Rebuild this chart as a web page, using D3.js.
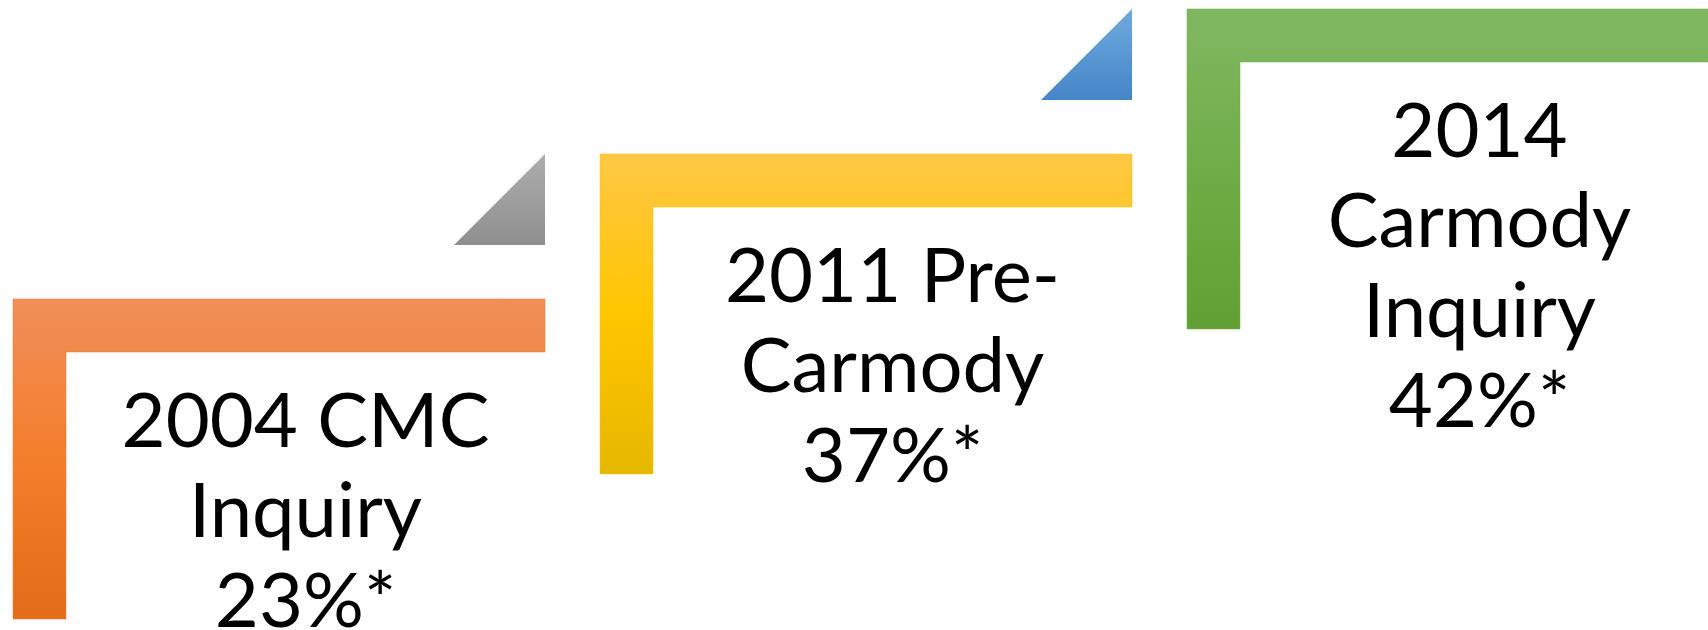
<!DOCTYPE html>
<html>
<head>
<meta charset="utf-8">
<script src="https://cdn.jsdelivr.net/npm/d3@7"></script>
<style>
  body { margin: 0; background: #fff; overflow: hidden; }
</style>
</head>
<body>
<span></span>
<script>
let width = 1708;
let height = 630;

// data
let years = [2004, 2011, 2014];
let labelLines = [["2004 CMC", "Inquiry"], ["2011 Pre-", "Carmody"], ["2014", "Carmody", "Inquiry"]];
let values = [23, 37, 42];
let colors = [
    ["#f08f5a", "#f47e2b", "#e36b19"],
    ["#ffc845", "#ffc600", "#e6b700"],
    ["#80b862", "#70ad47", "#61a033"]
];
let triColors = [["#adadad", "#8f8f8f"], ["#70a9de", "#4586c8"]];

let lw = 532, lh = 320, thick = 53, triSize = 91;

let x = d3.scaleLinear().domain([0, years.length - 1]).range([13, 1187]);
let y = d3.scaleLinear().domain([0, years.length - 1]).range([299, 9]);

let svg = d3.select("span")
    .append("svg")
    .attr("width", width)
    .attr("height", height)
    .style("display", "block");

let defs = svg.append("defs");

colors.forEach(function (c, i) {
    let g = defs.append("linearGradient")
        .attr("id", "grad" + i)
        .attr("x1", 0).attr("y1", 0).attr("x2", 0).attr("y2", 1);
    g.append("stop").attr("offset", "0%").attr("stop-color", c[0]);
    g.append("stop").attr("offset", "50%").attr("stop-color", c[1]);
    g.append("stop").attr("offset", "100%").attr("stop-color", c[2]);
});
triColors.forEach(function (c, i) {
    let g = defs.append("linearGradient")
        .attr("id", "tri" + i)
        .attr("x1", 0).attr("y1", 0).attr("x2", 0).attr("y2", 1);
    g.append("stop").attr("offset", "0%").attr("stop-color", c[0]);
    g.append("stop").attr("offset", "100%").attr("stop-color", c[1]);
});

// L shapes
years.forEach(function (yr, i) {
    let x0 = x(i), y0 = y(i);
    let p = d3.path();
    p.moveTo(x0, y0);
    p.lineTo(x0 + lw, y0);
    p.lineTo(x0 + lw, y0 + thick);
    p.lineTo(x0 + thick, y0 + thick);
    p.lineTo(x0 + thick, y0 + lh);
    p.lineTo(x0, y0 + lh);
    p.closePath();
    svg.append("path")
        .attr("d", p.toString())
        .attr("fill", "url(#grad" + i + ")")
        .attr("stroke", colors[i][1])
        .attr("stroke-opacity", 0.5)
        .attr("stroke-width", 1);

    // triangle pointing up to the next step
    if (i < years.length - 1) {
        let right = x0 + lw;
        let bottom = y0 - 54;
        let t = d3.path();
        t.moveTo(right, bottom - triSize);
        t.lineTo(right, bottom);
        t.lineTo(right - triSize, bottom);
        t.closePath();
        svg.append("path")
            .attr("d", t.toString())
            .attr("fill", "url(#tri" + i + ")");
    }

    // label text
    let lines = labelLines[i].concat([values[i] + "%*"]);
    let cx = x0 + thick + (lw - thick) / 2;
    let txt = svg.append("text")
        .attr("text-anchor", "middle")
        .attr("font-family", "Lato, 'Open Sans', sans-serif")
        .attr("font-size", 76)
        .attr("fill", "#000");
    lines.forEach(function (l, j) {
        txt.append("tspan")
            .attr("x", cx)
            .attr("y", y0 + 148 + j * 90)
            .text(l);
    });
});
</script>
</body>
</html>
